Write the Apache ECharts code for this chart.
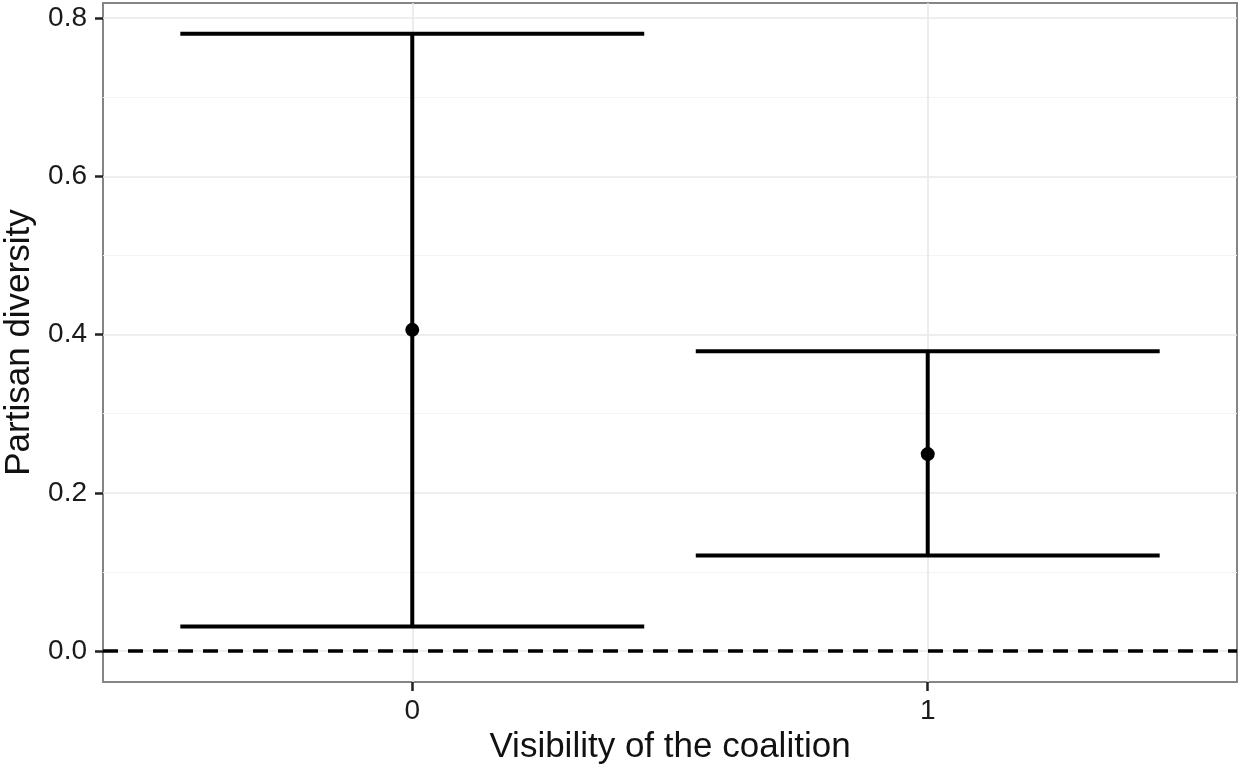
<!DOCTYPE html>
<html>
<head>
<meta charset="utf-8">
<script src="https://cdn.jsdelivr.net/npm/echarts@6/dist/echarts.min.js"></script>
<style>html,body{margin:0;padding:0;background:#fff}#c{width:1240px;height:765px}</style>
</head>
<body>
<div id="c"></div>
<script>
const categories = ['0', '1'];
const means = [0.406, 0.249];
const lower = [0.031, 0.121];
const upper = [0.780, 0.379];
const yTicks = [0, 0.2, 0.4, 0.6, 0.8];
const yMinor = [0.1, 0.3, 0.5, 0.7];
const xTicks = [0, 1];
const refLine = 0;

const FONT = "'Liberation Sans', Arial, sans-serif";
const chart = echarts.init(document.getElementById('c'), null, {renderer: 'canvas'});

const errData = categories.map((c, i) => [i, lower[i], upper[i]]);
const pointData = categories.map((c, i) => [i, means[i]]);

const gridLines = [];
yMinor.forEach(v => gridLines.push({yAxis: v, lineStyle: {color: '#f3f3f3', width: 1, type: 'solid'}}));
yTicks.forEach(v => gridLines.push({yAxis: v, lineStyle: {color: '#e8e8e8', width: 1.6, type: 'solid'}}));
xTicks.forEach(v => gridLines.push({xAxis: v, lineStyle: {color: '#e8e8e8', width: 1.6, type: 'solid'}}));

const option = {
  animation: false,
  backgroundColor: '#fff',
  grid: {left: 103, right: 3, top: 3, bottom: 83, show: true, borderColor: '#858585', borderWidth: 2,
    backgroundColor: 'transparent', containLabel: false, outerBoundsMode: 'none'},
  xAxis: {
    type: 'value', min: -0.6, max: 1.6,
    name: 'Visibility of the coalition', nameLocation: 'middle', nameGap: 48,
    nameTextStyle: {fontFamily: FONT, fontSize: 35, color: '#111'},
    axisLine: {show: false, onZero: false},
    splitLine: {show: false},
    axisTick: {show: true, length: 9, lineStyle: {color: '#222', width: 2.5}, customValues: xTicks},
    axisLabel: {fontFamily: FONT, fontSize: 28, color: '#1a1a1a', margin: 15, customValues: xTicks,
      formatter: v => categories[Math.round(v)]}
  },
  yAxis: {
    type: 'value', min: -0.039, max: 0.819,
    name: 'Partisan diversity', nameLocation: 'middle', nameGap: 56, nameRotate: 90,
    nameTextStyle: {fontFamily: FONT, fontSize: 35, color: '#111'},
    axisLine: {show: false, onZero: false},
    splitLine: {show: false},
    axisTick: {show: true, length: 8, lineStyle: {color: '#222', width: 2.5}, customValues: yTicks},
    axisLabel: {fontFamily: FONT, fontSize: 28, color: '#1a1a1a', margin: 16, customValues: yTicks,
      formatter: v => v.toFixed(1)}
  },
  series: [
    {
      type: 'line', data: [], silent: true, z: 1,
      markLine: {z: 1, silent: true, symbol: 'none', label: {show: false}, data: gridLines, animation: false}
    },
    {
      type: 'line', data: [], silent: true, z: 3,
      markLine: {z: 3, silent: true, symbol: 'none', label: {show: false}, animation: false,
        data: [{yAxis: refLine, lineStyle: {color: '#000', width: 3.5, type: [15, 10]}}]}
    },
    {
      type: 'custom', z: 4, data: errData,
      renderItem: function (params, api) {
        const x = api.value(0), lo = api.value(1), hi = api.value(2);
        const pLo = api.coord([x, lo]), pHi = api.coord([x, hi]);
        const l1 = api.coord([x - 0.45, lo]), r1 = api.coord([x + 0.45, lo]);
        const l2 = api.coord([x - 0.45, hi]), r2 = api.coord([x + 0.45, hi]);
        const st = {stroke: '#000', lineWidth: 4};
        return {type: 'group', children: [
          {type: 'line', shape: {x1: pLo[0], y1: pLo[1], x2: pHi[0], y2: pHi[1]}, style: st},
          {type: 'line', shape: {x1: l1[0], y1: l1[1], x2: r1[0], y2: r1[1]}, style: st},
          {type: 'line', shape: {x1: l2[0], y1: l2[1], x2: r2[0], y2: r2[1]}, style: st}
        ]};
      }
    },
    {
      type: 'scatter', z: 5, data: pointData, symbol: 'circle', symbolSize: 14,
      itemStyle: {color: '#000', opacity: 1}
    }
  ]
};
chart.setOption(option);
</script>
</body>
</html>
